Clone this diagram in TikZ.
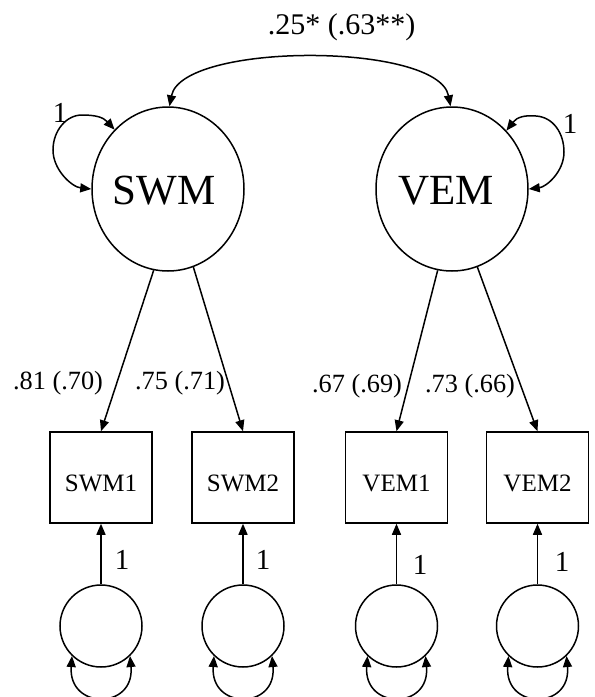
\documentclass[tikz,border=0pt]{standalone}
\usepackage{fontspec}
\setmainfont{Liberation Serif}
\usetikzlibrary{arrows.meta,shapes.geometric}
\tikzset{
  ln/.style={line width=1.5pt},
  tip/.style={-{Triangle[length=11pt,width=9pt]}},
  tips/.style={{Triangle[length=11pt,width=9pt]}-{Triangle[length=11pt,width=9pt]}},
  latent/.style={ellipse,draw,line width=1.5pt,minimum width=152pt,minimum height=164pt,inner sep=0pt,font=\fontsize{43}{46}\selectfont},
  obs/.style={rectangle,draw,line width=1.5pt,minimum width=102pt,minimum height=91pt,inner sep=0pt},
  err/.style={circle,draw,line width=1.5pt,minimum size=82pt,inner sep=0pt},
  obstxt/.style={inner sep=0pt,font=\fontsize{25}{28}\selectfont},
  lbl/.style={inner sep=0pt,font=\fontsize{26.3}{28}\selectfont},
  onelbl/.style={inner sep=0pt,font=\fontsize{29}{30}\selectfont},
  toplbl/.style={inner sep=0pt,font=\fontsize{30}{32}\selectfont}
}
\begin{document}
\begin{tikzpicture}[x=1pt,y=-1pt]
\useasboundingbox (0,0) rectangle (595,697);
% latent factors
\node[latent] (SWM) at (168,189) {};
\node[latent] (VEM) at (452,189) {};
\node[inner sep=0pt,font=\fontsize{43}{46}\selectfont] (tSWM) at (164,191) {SWM};
\node[inner sep=0pt,font=\fontsize{43}{46}\selectfont] (tVEM) at (446,191) {VEM};
% observed
\node[obs] (SWM1) at (101,477.5) {};
\node[obs] (SWM2) at (243,477.5) {};
\node[obs] (VEM1) at (396.5,477.5) {};
\node[obs] (VEM2) at (537.5,477.5) {};
\node[obstxt] (tSWM1) at (101,483) {SWM1};
\node[obstxt] (tSWM2) at (243,483) {SWM2};
\node[obstxt] (tVEM1) at (396.5,483) {VEM1};
\node[obstxt] (tVEM2) at (537.5,483) {VEM2};
% errors
\node[err] (e1) at (101,626) {};
\node[err] (e2) at (243,626) {};
\node[err] (e3) at (396.5,626) {};
\node[err] (e4) at (537.5,626) {};
% covariance
\draw[ln,tips] (SWM.89) .. controls (182,42) and (438,42) .. (VEM.91);
\node[toplbl] (cov) at (341.5,27) {.25* (.63**)};
% variances of latents
\draw[ln,tips] (SWM.132) .. controls (103,117) and (95,115) .. (82,115)
  .. controls (66,115) and (53,131) .. (53,150)
  .. controls (53,170) and (72,187) .. (SWM.180);
\node[onelbl] (vSWM) at (60,113) {1};
\draw[ln,tips] (VEM.47) .. controls (517,117) and (525,115) .. (536,116)
  .. controls (553,117) and (564,133) .. (564,152)
  .. controls (564,172) and (546,187) .. (VEM.0);
\node[onelbl] (vVEM) at (570,124) {1};
% loadings
\draw[ln,tip] (SWM.-100.5) -- (SWM1.north);
\draw[ln,tip] (SWM.-72.8) -- (SWM2.north);
\draw[ln,tip] (VEM.-100.5) -- (VEM1.north);
\draw[ln,tip] (VEM.-72.2) -- (VEM2.north);
\node[lbl] (l1) at (58,383) {.81 (.70)};
\node[lbl] (l2) at (180,383) {.75 (.71)};
\node[lbl] (l3) at (357,386) {.67 (.69)};
\node[lbl] (l4) at (470,386) {.73 (.66)};
% error paths
\draw[ln,tip] (e1.north) -- (SWM1.south);
\draw[ln,tip] (e2.north) -- (SWM2.south);
\draw[ln,tip] (e3.north) -- (VEM1.south);
\draw[ln,tip] (e4.north) -- (VEM2.south);
\node[onelbl] (o1) at (122,560) {1};
\node[onelbl] (o2) at (263,560) {1};
\node[onelbl] (o3) at (420,565) {1};
\node[onelbl] (o4) at (562,562) {1};
% error variances
\draw[ln,tips] (e1.226) .. controls (68,710) and (135,710) .. (e1.-46);
\draw[ln,tips] (e2.226) .. controls (210,710) and (277,710) .. (e2.-46);
\draw[ln,tips] (e3.226) .. controls (363.5,710) and (430.5,710) .. (e3.-46);
\draw[ln,tips] (e4.226) .. controls (504.5,710) and (571.5,710) .. (e4.-46);
\end{tikzpicture}
\end{document}
